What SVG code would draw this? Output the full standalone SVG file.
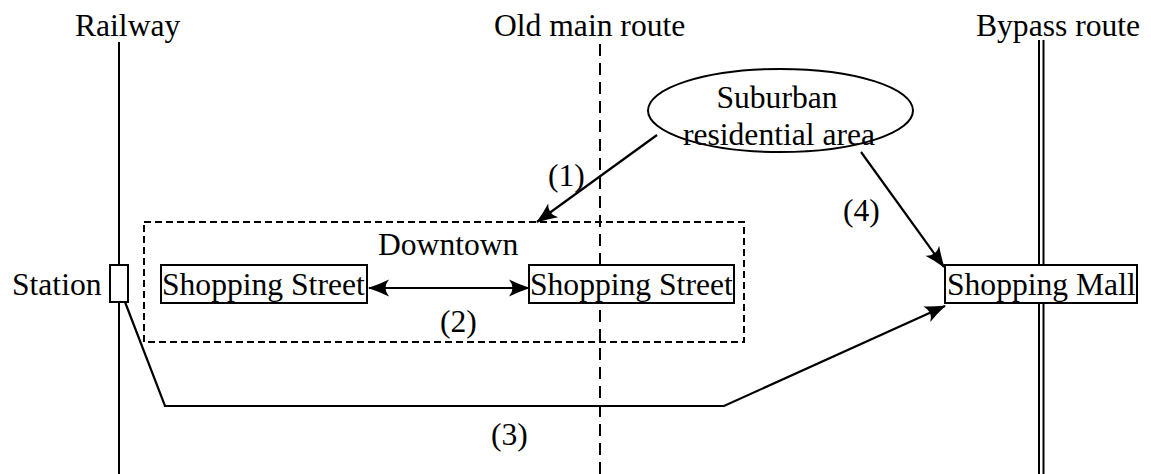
<svg xmlns="http://www.w3.org/2000/svg" width="1151" height="474" viewBox="0 0 1151 474" font-family="'Liberation Serif', 'Times New Roman', Times, serif">
<style>
  text { font-family: "Liberation Serif", "Times New Roman", Times, serif; font-size: 31.6px; fill: #000; }
  .box { fill: #fff; stroke: #000; stroke-width: 2; }
  .conn { fill: none; stroke: #000; stroke-width: 2.2; }
  .route { fill: none; stroke: #000; stroke-width: 2; }
</style>
<defs>
  <marker id="arrow" markerUnits="userSpaceOnUse" viewBox="0 0 22 18" markerWidth="22" markerHeight="18" refX="21" refY="9" orient="auto-start-reverse">
    <path d="M22,9 Q10,5 1,0.5 Q8,9 1,17.5 Q10,13 22,9 Z" fill="#000"/>
  </marker>
</defs>
<rect width="1151" height="474" fill="#fff"/>

<g id="routes">
  <line id="railway-line" class="route" x1="119" y1="42" x2="119" y2="474"/>
  <line id="old-main-route-line" class="route" x1="600" y1="44" x2="600" y2="474" stroke-dasharray="12,7"/>
  <line class="route" x1="1039" y1="40" x2="1039" y2="474" stroke-width="1.8"/>
  <line class="route" x1="1043.5" y1="40" x2="1043.5" y2="474" stroke-width="1.8"/>
  <text x="75" y="36">Railway</text>
  <text x="494" y="36">Old main route</text>
  <text x="976" y="36">Bypass route</text>
</g>

<g id="downtown">
  <rect x="144" y="222" width="600" height="120" fill="none" stroke="#000" stroke-width="2" stroke-dasharray="7,4"/>
  <text x="378" y="255">Downtown</text>
</g>

<g id="connectors">
  <line class="conn" x1="369" y1="288" x2="529" y2="288" marker-start="url(#arrow)" marker-end="url(#arrow)"/>
  <line class="conn" x1="657" y1="135" x2="537" y2="222" marker-end="url(#arrow)"/>
  <line class="conn" x1="861" y1="152" x2="944" y2="267" marker-end="url(#arrow)"/>
  <path class="conn" d="M125,302 L165,406 L724,406 L945,306" marker-end="url(#arrow)"/>
  <text x="548" y="186">(1)</text>
  <text x="440" y="332">(2)</text>
  <text x="491" y="445">(3)</text>
  <text x="843" y="221">(4)</text>
</g>

<g id="station">
  <rect class="box" x="110" y="265" width="18" height="37"/>
  <text x="12" y="295">Station</text>
</g>

<g id="shopping-street-1">
  <rect class="box" x="161" y="265" width="206" height="38"/>
  <text x="162" y="295">Shopping Street</text>
</g>

<g id="shopping-street-2">
  <rect class="box" x="529" y="265" width="205" height="38"/>
  <text x="530" y="295">Shopping Street</text>
</g>

<g id="shopping-mall">
  <rect class="box" x="945" y="265" width="192" height="38"/>
  <text x="947" y="295">Shopping Mall</text>
</g>

<g id="suburban">
  <ellipse cx="780.5" cy="110.5" rx="132.5" ry="41.5" fill="#fff" stroke="#000" stroke-width="2"/>
  <text x="777" y="108" text-anchor="middle">Suburban</text>
  <text x="779" y="145" text-anchor="middle">residential area</text>
</g>
</svg>
